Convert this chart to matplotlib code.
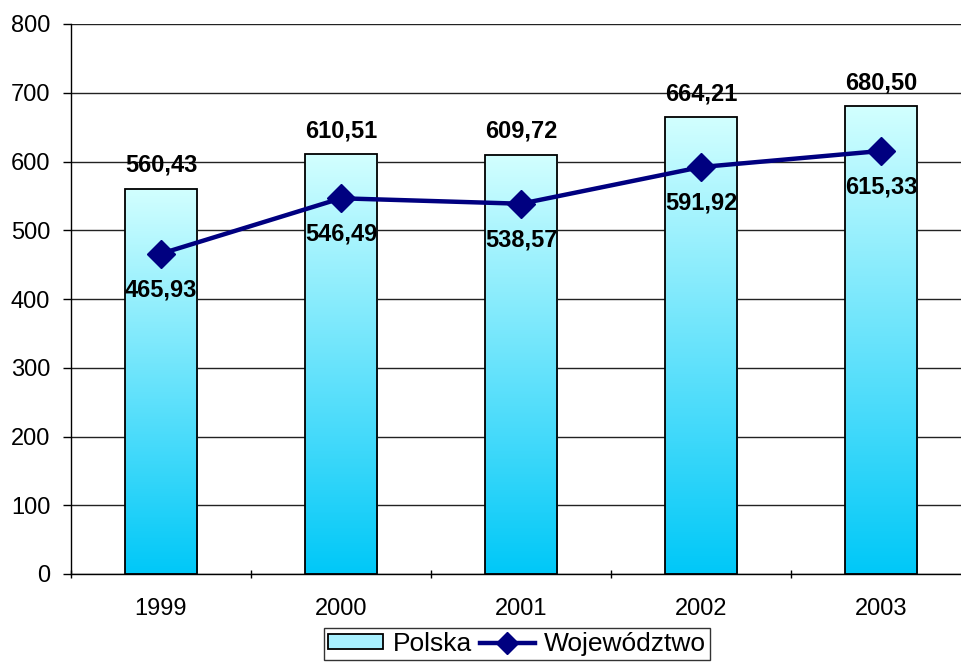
import matplotlib
matplotlib.use("Agg")
import matplotlib.pyplot as plt
import numpy as np
from matplotlib.patches import Patch
from matplotlib.lines import Line2D
from matplotlib.colors import LinearSegmentedColormap

plt.rcParams['font.family'] = ['Liberation Sans', 'DejaVu Sans']

years = ['1999', '2000', '2001', '2002', '2003']
polska = [560.43, 610.51, 609.72, 664.21, 680.50]
wojewodztwo = [465.93, 546.49, 538.57, 591.92, 615.33]
polska_labels = ['560,43', '610,51', '609,72', '664,21', '680,50']
woj_labels = ['465,93', '546,49', '538,57', '591,92', '615,33']

fig = plt.figure(figsize=(9.61, 6.65), dpi=100)
ax = fig.add_axes([71/961, 91/665, 900/961, 550/665])

x = np.arange(len(years))

cmap = LinearSegmentedColormap.from_list('g', ['#00c8f8', '#d2ffff'])
grad = np.linspace(0, 1, 256).reshape(-1, 1)
bw = 0.405
bars = ax.bar(x, polska, width=bw, facecolor='none', edgecolor='black', linewidth=1.3, zorder=3)
for b in bars:
    x0 = b.get_x()
    w, h = b.get_width(), b.get_height()
    ax.imshow(grad, extent=[x0, x0 + w, 0, h], origin='lower', cmap=cmap,
              aspect='auto', zorder=2)
ax.set_xlim(-0.5, len(years) - 0.5)
ax.set_ylim(0, 800)

ax.plot(x, wojewodztwo, color='#000080', linewidth=3.2, marker='D', markersize=14,
        zorder=5)

for xi, v, lab in zip(x, polska, polska_labels):
    ax.annotate(lab, (xi, v), xytext=(0, 17), textcoords='offset points',
                ha='center', va='center', fontsize=17, fontweight='bold', zorder=6)
for xi, v, lab in zip(x, wojewodztwo, woj_labels):
    ax.annotate(lab, (xi, v), xytext=(0, -26), textcoords='offset points',
                ha='center', va='center', fontsize=17, fontweight='bold', zorder=6)

ax.set_yticks(np.arange(0, 801, 100))
ax.yaxis.grid(True, color='#222222', linewidth=1.0, zorder=0)
ax.set_axisbelow(True)
ax.set_xticks(x)
ax.set_xticklabels(years)
ax.set_xticks(np.arange(-0.5, len(years), 1.0), minor=True)
ax.tick_params(axis='x', which='major', length=0, labelsize=17, pad=17)
ax.tick_params(axis='x', which='minor', length=6, direction='inout', width=1)
ax.tick_params(axis='y', length=6, labelsize=17, width=1, pad=9)
for s in ['top', 'right']:
    ax.spines[s].set_visible(False)
ax.spines['left'].set_linewidth(1.0)
ax.spines['bottom'].set_linewidth(1.0)

handles = [Patch(facecolor='#a8f0ff', edgecolor='black', linewidth=1.3),
           Line2D([0], [0], color='#000080', linewidth=3.2, marker='D', markersize=11)]
leg = fig.legend(handles, ['Polska', 'Województwo'], loc='upper center',
                 bbox_to_anchor=(517/961, 1 - 628/665), ncol=2, fontsize=19,
                 frameon=True, fancybox=False, edgecolor='black', borderpad=0.15,
                 borderaxespad=0, handlelength=2.1, handleheight=0.5,
                 columnspacing=0.3, handletextpad=0.35)
leg.get_frame().set_linewidth(1.0)

fig.savefig('out.png', dpi=100)
